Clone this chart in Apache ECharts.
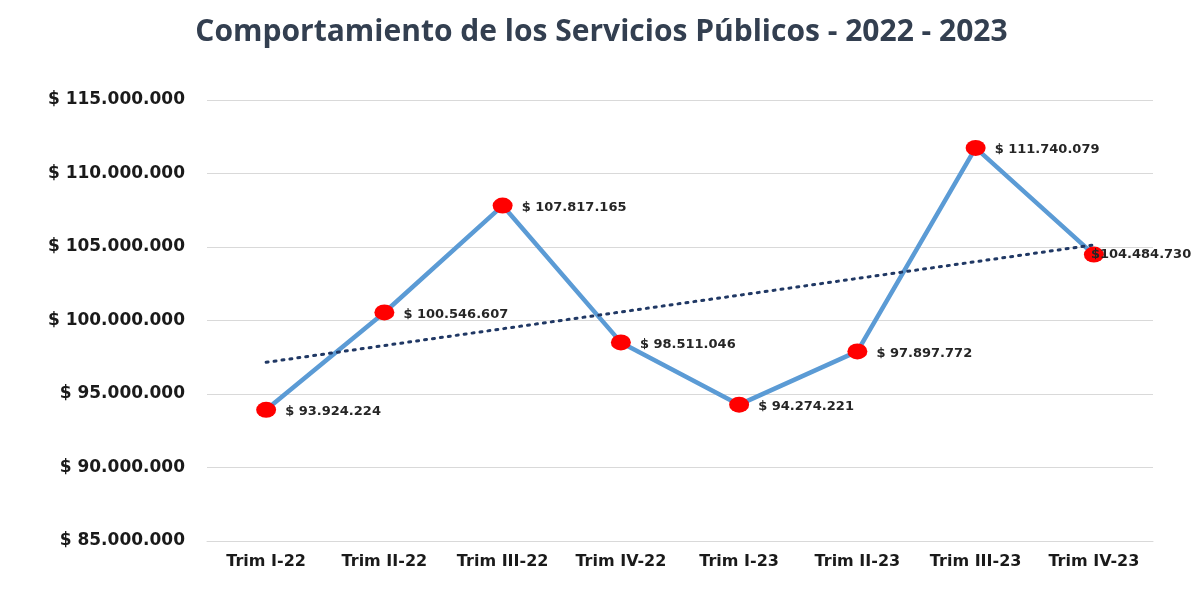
<!DOCTYPE html>
<html>
<head>
<meta charset="utf-8">
<script src="https://cdn.jsdelivr.net/npm/echarts@6/dist/echarts.min.js"></script>
<style>
  html, body { margin: 0; padding: 0; background: #fff; }
  #chart { width: 1203px; height: 606px; }
</style>
</head>
<body>
<div id="chart"></div>
<script>
// trimestres
var categories = ['Trim I-22', 'Trim II-22', 'Trim III-22', 'Trim IV-22', 'Trim I-23', 'Trim II-23', 'Trim III-23', 'Trim IV-23'];
var valores = [93924224, 100546607, 107817165, 98511046, 94274221, 97897772, 111740079, 104484730];
var yMin = 85000000, yMax = 115000000, yStep = 5000000;

function miles(n) {
  return String(Math.round(n)).replace(/\B(?=(\d{3})+(?!\d))/g, '.');
}

// linea de tendencia lineal (minimos cuadrados, como la de Excel)
var n = valores.length, sx = 0, sy = 0, sxy = 0, sxx = 0;
for (var i = 0; i < n; i++) {
  sx += i; sy += valores[i]; sxy += i * valores[i]; sxx += i * i;
}
var pend = (n * sxy - sx * sy) / (n * sxx - sx * sx);
var corte = (sy - pend * sx) / n;
var tendencia = valores.map(function (v, i) { return corte + pend * i; });

var puntos = valores.map(function (v, i) {
  var p = { value: v };
  if (i === n - 1) {
    p.label = { offset: [-22, 0], formatter: function (d) { return '$' + miles(d.value); } };
  }
  return p;
});

var chart = echarts.init(document.getElementById('chart'));
chart.setOption({
  animation: false,
  title: {
    text: 'Comportamiento de los Servicios Públicos - 2022 - 2023',
    left: 'center',
    top: 12,
    textStyle: { fontFamily: 'Open Sans', fontSize: 30, fontWeight: 'bold', color: '#333f50' }
  },
  grid: { left: 207, right: 50, top: 100, bottom: 65 },
  xAxis: {
    type: 'category',
    data: categories,
    axisLine: { lineStyle: { color: '#d9d9d9', width: 1 } },
    axisTick: { show: false },
    axisLabel: { interval: 0, margin: 13, fontFamily: 'DejaVu Sans', fontSize: 16, fontWeight: 'bold', color: '#1a1a1a' }
  },
  yAxis: {
    type: 'value',
    min: yMin, max: yMax, interval: yStep,
    axisLine: { show: false },
    axisTick: { show: false },
    splitLine: { lineStyle: { color: '#d9d9d9', width: 1 } },
    axisLabel: {
      margin: 22, fontFamily: 'DejaVu Sans', fontSize: 17, fontWeight: 'bold', color: '#1a1a1a',
      formatter: function (v) { return '$ ' + miles(v); }
    }
  },
  series: [
    {
      type: 'line',
      data: puntos,
      symbol: 'circle',
      symbolSize: [20, 16],
      itemStyle: { color: '#ff0000' },
      lineStyle: { color: '#5b9bd5', width: 4.5 },
      label: {
        show: true, position: 'right', distance: 9, offset: [0, 2],
        fontFamily: 'DejaVu Sans', fontSize: 13, fontWeight: 'bold', color: '#262626',
        formatter: function (d) { return '$ ' + miles(d.value); }
      },
      z: 2
    },
    {
      type: 'line',
      data: tendencia,
      symbol: 'none',
      lineStyle: { color: '#203864', width: 3, type: [2, 6], cap: 'round' },
      silent: true,
      z: 3
    }
  ]
});
</script>
</body>
</html>
